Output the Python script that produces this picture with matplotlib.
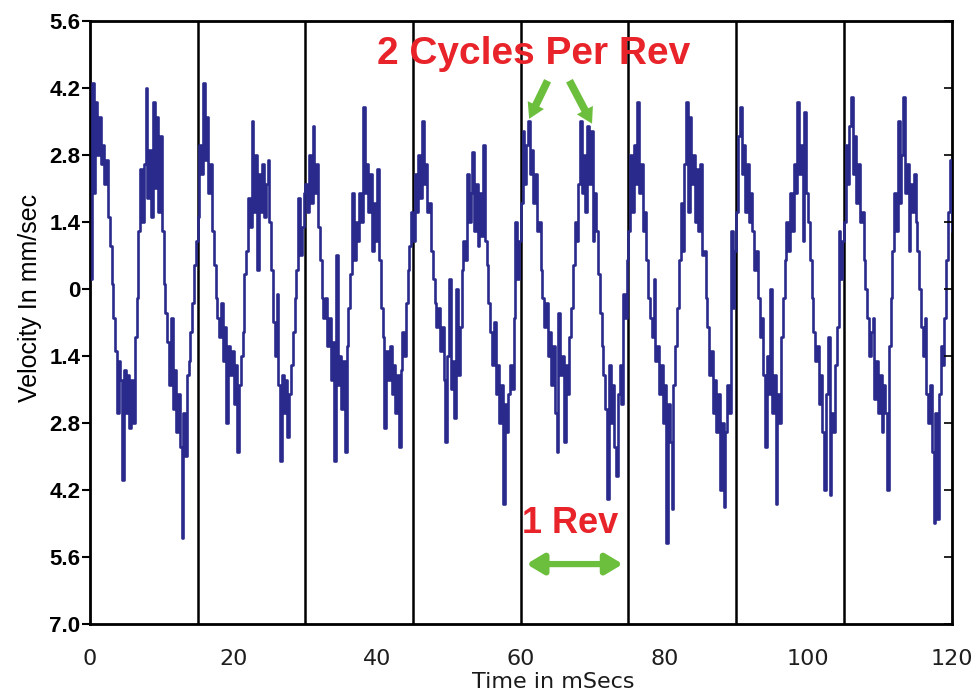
import numpy as np
import matplotlib.pyplot as plt

# velocity samples every 0.25 ms, one list per revolution (15 ms)
rev1 = [0.2, 4.3, 2.0, 3.9, 2.8, 3.6, 2.6, 3.0, 2.2, 2.7, 1.5, 0.9,
        0.1, -0.6, -1.3, -2.6, -1.5, -1.9, -4.0, -1.7, -2.6, -1.8, -2.9, -1.9,
        -2.8, -1.0, -0.2, 1.2, 2.5, 1.4, 2.6, 4.2, 1.9, 2.9, 1.5, 3.9,
        2.1, 3.6, 1.6, 3.2, 1.2, 0.1, -0.5, -1.1, -2.0, -0.6, -2.5, -1.7,
        -3.0, -2.2, -3.3, -5.2, -2.6, -3.5, -1.8, -1.5, -0.9, -0.3, 0.5, 1.0]
rev2 = [1.5, 3.0, 2.4, 4.3, 2.7, 3.6, 2.0, 2.6, 1.2, 0.5, -0.2, -0.6,
        -1.0, -0.3, -1.5, -0.8, -2.8, -1.2, -1.8, -1.3, -2.4, -1.6, -3.4, -2.0,
        -1.4, -0.9, 0.3, 0.8, 1.9, 1.3, 3.5, 1.6, 2.8, 0.4, 2.4, 1.6,
        2.6, 1.5, 2.2, 2.7, 1.4, 0.4, -0.7, -1.4, -0.1, -2.0, -3.6, -1.8,
        -2.6, -1.9, -3.1, -2.2, -1.6, -0.9, -0.2, 0.4, 1.9, 0.7, 1.3, 2.0]
rev3 = [2.2, 1.6, 2.8, 1.8, 3.4, 2.0, 2.6, 1.3, 0.6, -0.2, -0.6, -0.2,
        -1.2, -0.6, -1.9, -1.1, -3.6, 0.7, -2.0, -1.4, -2.5, -1.5, -3.4, -1.2,
        -0.4, 0.3, 2.0, 0.6, 1.4, 1.0, 2.0, 1.4, 3.8, 2.0, 2.6, 1.6,
        2.4, 0.8, 1.8, 1.0, 2.5, 0.6, -0.4, -1.0, -2.9, -1.3, -1.9, -1.2,
        -2.2, -1.6, -2.6, -1.8, -3.3, -1.7, -0.9, -1.4, -0.3, 0.4, 0.9, 1.6]
rev4 = [1.0, 2.4, 1.6, 2.8, 1.9, 3.5, 2.2, 2.6, 1.6, 1.8, 0.8, 0.2,
        -0.3, -0.8, -0.4, -1.3, -0.8, -1.9, -3.2, -1.4, 0.2, -2.1, -1.5, -2.7,
        0.0, -1.8, -0.8, 0.4, 1.0, 0.6, 2.4, 1.4, 2.0, 2.85, 1.2, 2.2,
        0.9, 2.0, 1.1, 3.0, 1.0, 0.5, -0.3, -0.9, -1.6, -0.7, -2.2, -1.6,
        -2.8, -2.0, -4.5, -2.4, -3.0, -2.2, -1.6, -2.1, -0.6, 1.4, 0.2, 1.0]
rev5 = [1.8, 3.3, 2.2, 3.0, 3.5, 2.4, 2.9, 1.8, 2.4, 1.2, 1.4, 0.4,
        -0.2, -0.8, -0.3, -1.4, -0.9, -2.0, -1.2, -2.6, -3.4, -0.5, -1.8, -1.4,
        -3.2, -1.6, -2.2, -1.0, -0.4, 0.5, 1.4, 1.0, 2.2, 3.5, 2.0, 2.8,
        1.6, 3.4, 2.2, 3.3, 1.0, 2.0, 1.2, 0.3, -0.5, -1.2, -1.8, -2.5,
        -4.4, -1.6, -2.8, -2.0, -3.3, -3.9, -2.2, -1.6, -2.4, -0.1, -0.6, 0.6]
rev6 = [1.2, 2.8, 1.6, 3.0, 2.2, 3.9, 2.0, 2.6, 1.2, 1.6, 0.6, -0.2,
        -0.6, -1.0, 0.2, -1.5, -1.2, -2.2, -1.6, -2.8, -2.0, -5.3, -2.4, -3.2,
        -4.6, -2.0, -1.2, -0.4, 0.6, 1.8, 0.8, 2.6, 3.9, 1.6, 3.6, 2.2,
        2.8, 1.4, 2.5, 1.2, 2.6, 0.7, 0.8, -0.2, -0.8, -1.8, -1.3, -2.6,
        -1.9, -3.0, -2.2, -4.2, -2.8, -4.55, -3.0, -2.0, -2.6, 1.2, -0.4, 0.8]
rev7 = [1.6, 3.2, 3.8, 2.4, 3.0, 1.6, 2.6, 1.4, 2.0, 1.2, 0.4, 0.8,
        -0.2, -1.0, -0.6, -1.8, -3.3, -1.4, -2.2, 0.0, -2.6, -1.8, -4.5, -2.2,
        -2.8, -1.0, -0.2, 0.6, 1.4, 0.8, 2.0, 1.2, 2.6, 2.0, 3.9, 2.4,
        3.0, 1.0, 3.7, 2.0, 1.4, 0.6, -0.2, -0.9, -1.5, -1.2, -2.4, -1.8,
        -3.0, -4.2, -2.2, -1.0, -4.3, -2.6, -3.0, -1.6, -0.8, 1.2, 0.2, 1.0]
rev8 = [1.4, 3.0, 2.2, 3.4, 4.0, 2.4, 3.2, 1.8, 2.6, 1.4, 1.6, 0.6,
        0.0, -0.6, -1.4, -0.9, -0.6, -2.3, -1.5, -2.6, -1.8, -3.0, -2.0, -2.6,
        -4.2, -1.2, -0.2, 0.8, 2.0, 1.2, 3.5, 1.8, 2.8, 4.0, 2.0, 2.6,
        0.8, 2.2, 1.6, 2.4, 1.4, 0.8, 0.0, -0.8, -1.4, -0.6, -2.2, -2.8,
        -2.0, -3.4, -4.9, -2.6, -4.8, -2.2, -1.2, -1.6, -0.6, 0.6, 1.6, 2.7,
        1.2]

velocity = np.array(rev1 + rev2 + rev3 + rev4 + rev5 + rev6 + rev7 + rev8)
time_ms = np.arange(len(velocity)) * 0.25

rev_marks = [15, 30, 45, 60, 75, 90, 105]
x_ticks = [0, 20, 40, 60, 80, 100, 120]
y_ticks = [-7.0, -5.6, -4.2, -2.8, -1.4, 0.0, 1.4, 2.8, 4.2, 5.6]
y_labels = ['7.0', '5.6', '4.2', '2.8', '1.4', '0', '1.4', '2.8', '4.2', '5.6']

plt.rcParams['font.family'] = ['Liberation Sans', 'DejaVu Sans']

fig = plt.figure(figsize=(9.78, 6.94), dpi=100)
ax = fig.add_axes([0.092, 0.101, 0.881, 0.869])

ax.plot(time_ms, velocity, color='#2a2a8c', lw=1.9, drawstyle='steps-post', zorder=3)
for xm in rev_marks:
    ax.axvline(xm, color='black', lw=1.8, zorder=2)

ax.set_xlim(0, 120)
ax.set_ylim(-7.0, 5.6)
ax.set_xticks(x_ticks)
ax.set_xticklabels([str(v) for v in x_ticks], family='DejaVu Sans')
ax.set_yticks(y_ticks)
ax.set_yticklabels(y_labels, fontweight='bold')
ax.tick_params(axis='y', direction='out', length=6, width=1.5, labelsize=16, pad=1)
ax.tick_params(axis='x', length=0, labelsize=16, pad=18, labelcolor='#1e1e1e')
for sp in ax.spines.values():
    sp.set_linewidth(2)

# right side ticks point inward
ax2 = ax.twinx()
ax2.set_ylim(-7.0, 5.6)
ax2.set_yticks(y_ticks)
ax2.tick_params(axis='y', direction='in', length=6, width=1.2, labelright=False)

ax.set_ylabel('Velocity In mm/sec', fontsize=18)
ax.yaxis.set_label_coords(-0.056, 0.54)
ax.set_xlabel('Time in mSecs', fontsize=16, family='DejaVu Sans', color='#1a1a1a')
ax.xaxis.set_label_coords(0.538, -0.080)

ax.text(61.8, 4.9, '2 Cycles Per Rev', color='#e8232a', fontsize=28,
        fontweight='bold', ha='center', va='center', zorder=5)
green = '#6cbf3c'
ax.annotate('', xy=(61.0, 3.5), xytext=(63.9, 4.4),
            arrowprops=dict(arrowstyle='simple,head_width=1.3,head_length=1.1,tail_width=0.55',
                            color=green, lw=0), zorder=5)
ax.annotate('', xy=(70.1, 3.4), xytext=(66.6, 4.4),
            arrowprops=dict(arrowstyle='simple,head_width=1.3,head_length=1.1,tail_width=0.55',
                            color=green, lw=0), zorder=5)

ax.text(66.9, -4.9, '1 Rev', color='#e8232a', fontsize=26,
        fontweight='bold', ha='center', va='center', zorder=5)
ax.annotate('', xy=(60.4, -5.75), xytext=(74.6, -5.75),
            arrowprops=dict(arrowstyle='<|-|>,head_width=0.6,head_length=1.0',
                            color=green, lw=4.5), zorder=5)

fig.savefig('out.png', dpi=100)
